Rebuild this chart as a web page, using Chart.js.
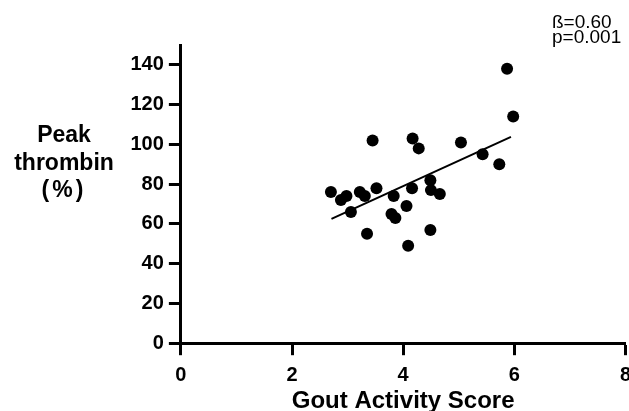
<!DOCTYPE html>
<html>
<head>
<meta charset="utf-8">
<script src="https://cdn.jsdelivr.net/npm/chart.js@4.4.0/dist/chart.umd.min.js"></script>
<style>
  html, body { margin: 0; padding: 0; background: #fff; overflow: hidden; }
  #wrap { position: relative; width: 639px; height: 422px; }
</style>
</head>
<body>
<div id="wrap"><canvas id="myChart"></canvas></div>
<script>
// gout activity score vs peak thrombin
const goutScore = [5.87, 5.98, 3.45, 4.17, 4.28, 5.04, 5.43, 5.73, 2.70, 2.88, 2.98, 3.22, 3.31,
  3.52, 3.06, 3.35, 3.83, 3.79, 3.86, 4.06, 4.09, 4.16, 4.49, 4.50, 4.66, 4.49];
const peakThrombin = [138, 114, 102, 103, 98, 101, 95, 90, 76, 72, 74, 76, 74,
  78, 66, 55, 74, 65, 63, 69, 49, 78, 82, 77, 75, 57];

// regression line end points
const fitX = [2.71, 5.94];
const fitY = [62.5, 103.8];

const yTickValues = [0, 20, 40, 60, 80, 100, 120, 140];
const yTitleLines = ['Peak', 'thrombin', '(%)'];
const statLines = ['\u00DF=0.60', 'p=0.001'];

const FONT = '"Liberation Sans", Arial, sans-serif';

const points = goutScore.map((x, i) => ({ x: x, y: peakThrombin[i] }));
const fitLine = fitX.map((x, i) => ({ x: x, y: fitY[i] }));

// y title sits horizontally left of the axis, stats in the top corner
const textPlugin = {
  id: 'extraText',
  afterDraw(chart) {
    const ctx = chart.ctx;
    ctx.save();
    ctx.fillStyle = '#000';
    ctx.textBaseline = 'alphabetic';
    ctx.font = 'bold 23px ' + FONT;
    ctx.textAlign = 'center';
    yTitleLines.forEach((t, i) => {
      ctx.letterSpacing = (i == 2) ? '3px' : '0px';
      ctx.fillText(t, 64, 142 + i * 27.5);
    });
    ctx.letterSpacing = '0px';
    ctx.font = '19px ' + FONT;
    ctx.textAlign = 'left';
    statLines.forEach((t, i) => ctx.fillText(t, 552, 27.5 + i * 15.5));
    ctx.restore();
  }
};

const data = {
  datasets: [{
    type: 'scatter',
    data: points,
    backgroundColor: '#000',
    borderWidth: 0,
    pointRadius: 6,
    pointHoverRadius: 6
  }, {
    type: 'line',
    data: fitLine,
    borderColor: '#000',
    borderWidth: 2,
    pointRadius: 0,
    fill: false
  }]
};

const config = {
  type: 'scatter',
  data: data,
  plugins: [textPlugin],
  options: {
    responsive: true,
    maintainAspectRatio: false,
    animation: false,
    layout: { padding: { left: 125.5, top: 45, right: 6, bottom: 3 } },
    plugins: {
      legend: { display: false },
      tooltip: { enabled: false }
    },
    scales: {
      x: {
        type: 'linear',
        min: 0,
        max: 8,
        ticks: { stepSize: 2, color: '#000', padding: 8, font: { family: FONT, size: 20, weight: 'bold' } },
        grid: { drawOnChartArea: false, drawTicks: true, tickLength: 12, tickWidth: 3, tickColor: '#000' },
        border: { display: true, color: '#000', width: 3 },
        title: {
          display: true,
          text: 'Gout Activity Score',
          color: '#000',
          padding: { top: -8, bottom: 3 },
          font: { family: FONT, size: 24, weight: 'bold' }
        }
      },
      y: {
        type: 'linear',
        min: 0,
        max: 150,
        afterBuildTicks: (axis) => { axis.ticks = yTickValues.map(v => ({ value: v })); },
        ticks: { color: '#000', padding: 5, font: { family: FONT, size: 20, weight: 'bold' } },
        grid: { drawOnChartArea: false, drawTicks: true, tickLength: 12, tickWidth: 3, tickColor: '#000' },
        border: { display: true, color: '#000', width: 3 }
      }
    }
  }
};

const myChart = new Chart(document.getElementById('myChart'), config);
</script>
</body>
</html>
